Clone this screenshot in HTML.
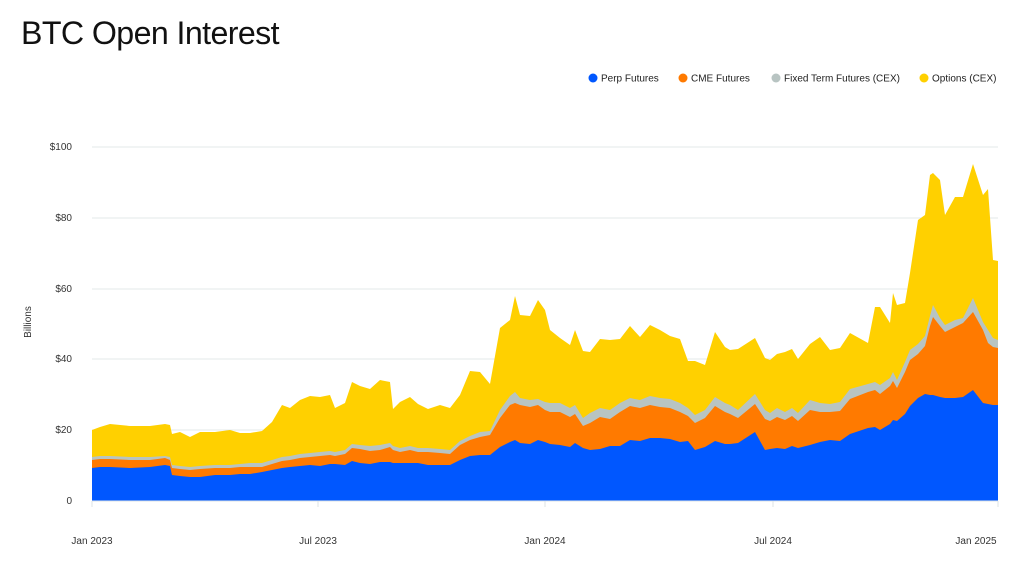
<!DOCTYPE html>
<html><head><meta charset="utf-8"><style>
body{margin:0;background:#fff;width:1024px;height:566px;overflow:hidden;font-family:"Liberation Sans",sans-serif}
</style></head><body>
<svg id="s" width="1024" height="566" xmlns="http://www.w3.org/2000/svg" font-family="Liberation Sans, sans-serif">
<text x="21" y="44" font-size="32" fill="#111" letter-spacing="-0.6" textLength="258" lengthAdjust="spacingAndGlyphs">BTC Open Interest</text>
<g font-size="10" fill="#222">
<circle cx="593" cy="78" r="4.5" fill="#0057ff"/><text x="601" y="81.5">Perp Futures</text>
<circle cx="683" cy="78" r="4.5" fill="#ff7a00"/><text x="691" y="81.5">CME Futures</text>
<circle cx="776" cy="78" r="4.5" fill="#b8c4c2"/><text x="784" y="81.5">Fixed Term Futures (CEX)</text>
<circle cx="924" cy="78" r="4.5" fill="#ffd000"/><text x="932" y="81.5">Options (CEX)</text>
</g>
<g stroke="#e3e8ea" stroke-width="1">
<line x1="92" x2="998" y1="147" y2="147"/><line x1="92" x2="998" y1="218" y2="218"/>
<line x1="92" x2="998" y1="289" y2="289"/><line x1="92" x2="998" y1="359" y2="359"/>
<line x1="92" x2="998" y1="430" y2="430"/>
</g>
<g font-size="10" fill="#333" text-anchor="end">
<text x="72" y="150">$100</text><text x="72" y="221">$80</text><text x="72" y="292">$60</text>
<text x="72" y="362">$40</text><text x="72" y="433">$20</text><text x="72" y="504">0</text>
</g>
<text transform="translate(31,322) rotate(-90)" font-size="10" fill="#333" text-anchor="middle">Billions</text>
<g id="areas"></g>
<line x1="92" x2="998" y1="501" y2="501" stroke="#dde3e6"/>
<g stroke="#dde3e6"><line x1="92" x2="92" y1="501" y2="507"/><line x1="318" x2="318" y1="501" y2="507"/><line x1="545" x2="545" y1="501" y2="507"/><line x1="773" x2="773" y1="501" y2="507"/><line x1="998" x2="998" y1="501" y2="507"/></g>
<g font-size="10" fill="#333" text-anchor="middle">
<text x="92" y="544">Jan 2023</text><text x="318" y="544">Jul 2023</text><text x="545" y="544">Jan 2024</text><text x="773" y="544">Jul 2024</text><text x="976" y="544">Jan 2025</text>
</g>
</svg>
<script>
var d=[[92,430,457,460,468],[100,427,456,459,467],[110,424,456,459,467],[130,426,457,460,468],[150,426,457,460,467],[165,424,456,458,465],[170,425,457,460,466],[172,434,465,468,475],[180,432,466,469,476],[190,437,467,470,477],[200,432,466,469,477],[215,432,465,468,475],[230,430,465,468,475],[240,433,464,467,474],[250,433,463,467,474],[262,431,463,467,472],[272,422,460,464,470],[282,405,457,461,468],[290,408,456,460,467],[300,400,454,458,466],[310,396,453,457,465],[320,397,452,456,466],[330,395,451,455,464],[335,408,452,456,464],[345,403,450,454,465],[352,382,444,448,461],[360,386,445,449,463],[370,389,446,451,464],[380,380,445,450,462],[390,382,443,447,462],[393,409,446,450,463],[400,402,448,452,463],[410,397,446,450,463],[418,404,448,452,463],[428,409,448,452,465],[440,405,449,453,465],[450,408,450,454,465],[460,395,441,445,460],[470,371,436,440,456],[480,372,432,437,455],[490,384,431,435,455],[500,328,410,418,447],[510,320,396,405,442],[515,296,392,403,440],[520,315,398,405,443],[530,316,400,407,444],[538,300,399,405,440],[545,310,402,410,442],[550,330,403,412,444],[560,338,403,412,445],[570,345,408,417,447],[575,330,405,414,443],[583,351,418,426,448],[590,352,413,423,450],[600,339,408,417,449],[610,340,410,419,446],[620,339,403,412,446],[630,326,398,406,440],[640,337,400,408,441],[650,325,396,405,438],[660,330,398,407,438],[670,336,399,408,439],[680,339,403,412,442],[688,361,408,416,441],[695,361,415,423,450],[705,365,410,418,447],[715,332,397,406,441],[725,347,403,412,444],[730,350,405,414,444],[738,349,410,418,443],[755,338,394,404,432],[765,358,410,419,450],[770,360,413,421,449],[777,354,408,417,448],[785,352,412,420,449],[792,349,408,416,446],[798,359,413,421,448],[810,344,400,410,445],[820,337,403,412,442],[830,350,404,412,440],[840,348,402,411,441],[850,333,389,399,434],[868,343,384,392,428],[875,307,382,390,427],[880,307,385,394,430],[890,323,378,386,424],[893,293,372,381,420],[897,305,380,388,421],[905,303,362,372,414],[910,273,350,360,406],[918,220,344,354,398],[925,215,336,346,394],[930,175,316,326,395],[933,173,305,317,395],[940,180,318,326,397],[945,215,325,332,398],[955,197,320,327,398],[963,197,318,323,397],[973,164,298,312,390],[983,195,322,330,403],[988,189,330,343,404],[993,260,338,347,405],[998,261,340,348,405]];
var cols=["#ffd000","#b8c4c2","#ff7a00","#0057ff"],g=document.getElementById("areas"),h="";
for(var k=0;k<4;k++){var p="M92,501";d.forEach(function(r){p+=" L"+r[0]+","+r[k+1]});p+=" L998,501 Z";h+='<path d="'+p+'" fill="'+cols[k]+'"/>';}
g.innerHTML=h;
</script>
</body></html>
